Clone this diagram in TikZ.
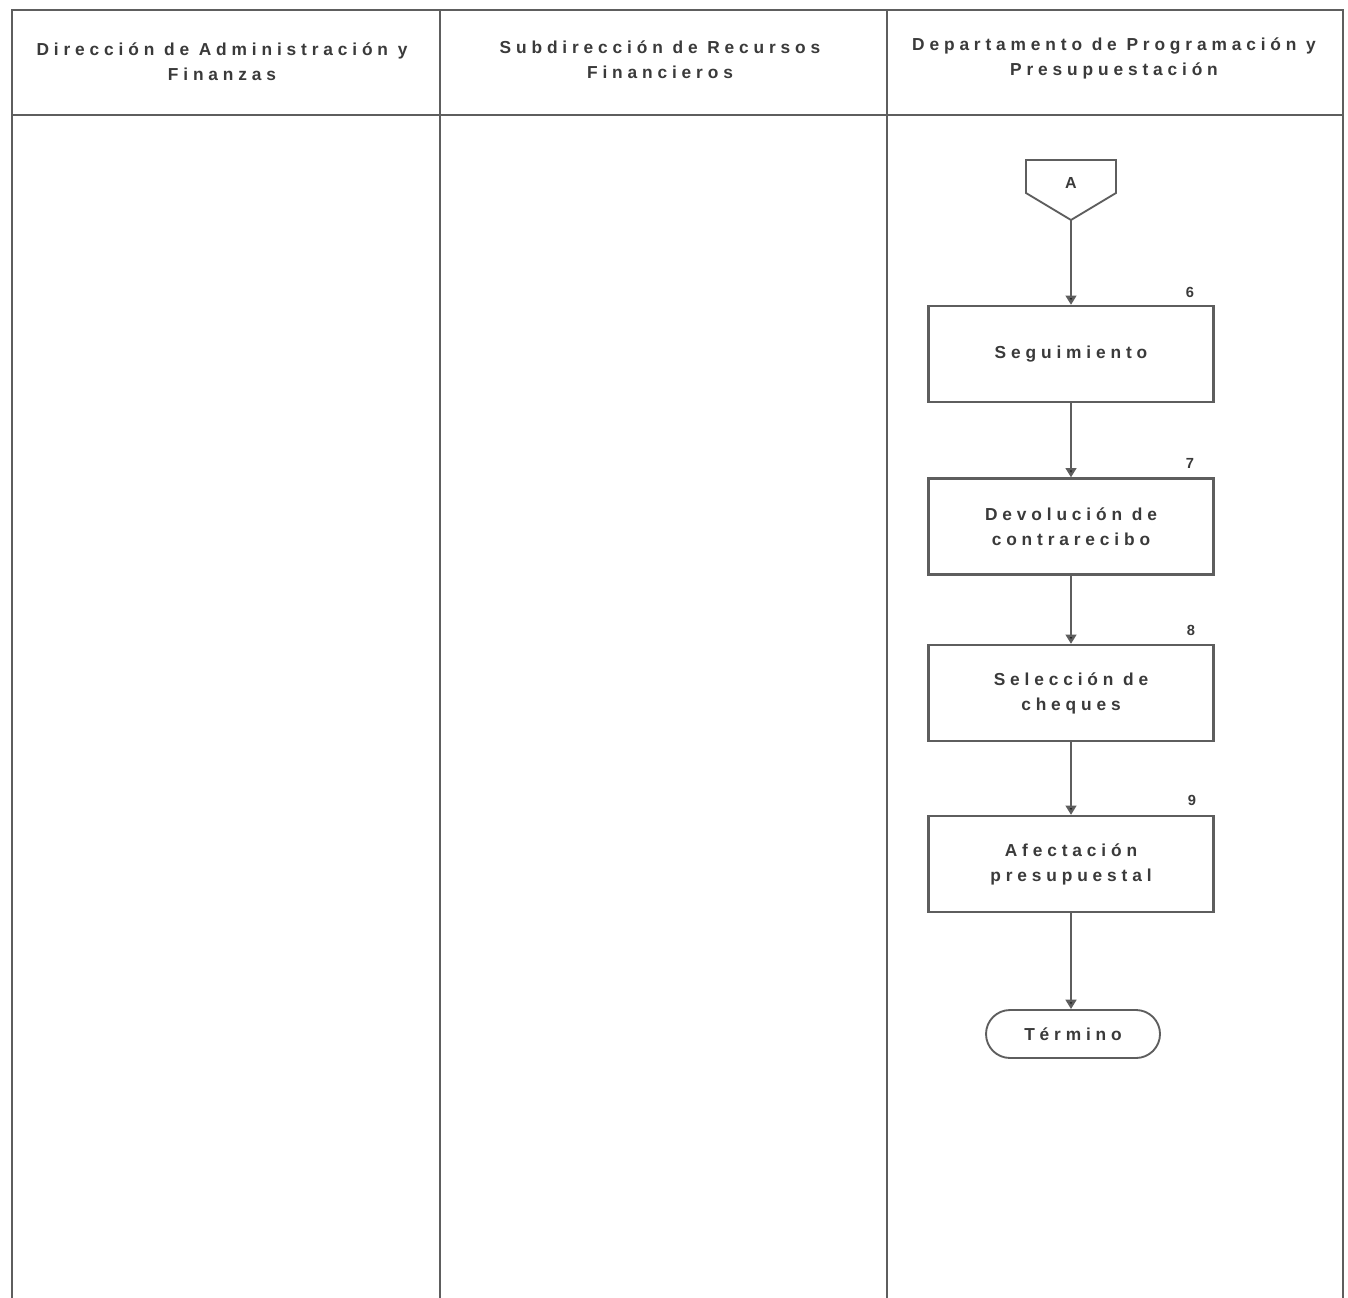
\documentclass[tikz,border=0pt]{standalone}
\usepackage{fontspec}
\setmainfont{Liberation Sans}[LetterSpace=28]
\usetikzlibrary{arrows.meta}
\definecolor{ln}{HTML}{5E5E5E}
\definecolor{tx}{HTML}{3A3A3A}
\tikzset{
  lane/.style={draw=ln, line width=2pt},
  hdr/.style={align=center, text=tx, font=\bfseries\fontsize{13}{18.75}\selectfont, inner sep=0pt},
  stepbox/.style={draw=ln, line width=1.7pt, minimum width=213.75pt, minimum height=72pt, align=center, text=tx, font=\bfseries\fontsize{13}{18.75}\selectfont, inner sep=0pt},
  endbox/.style={draw=ln, line width=1.4pt, minimum width=130.5pt, minimum height=36pt, rounded corners=18pt, text=tx, font=\bfseries\fontsize{13}{14}\selectfont, inner sep=0pt},
  num/.style={text=tx, font=\bfseries\fontsize{11}{12}\selectfont, inner sep=0pt},
  flow/.style={draw=ln, line width=1.7pt, -{Triangle[length=7pt,width=8pt,fill=black!85]}},
}
\begin{document}
\begin{tikzpicture}[x=0.75pt,y=-0.75pt]
\useasboundingbox[fill=white] (0,0) rectangle (1348,1298);
% swimlane frame
\draw[lane] (12,1298) -- (12,10) -- (1343,10) -- (1343,1298);
\draw[lane] (12,115) -- (1343,115);
\draw[lane] (440,10) -- (440,1298);
\draw[lane] (887,10) -- (887,1298);
% headers
\node[hdr] (h1) at (222,62) {Dirección de Administración y\\Finanzas};
\node[hdr] (h2) at (660,60) {Subdirección de Recursos\\Financieros};
\node[hdr] (h3) at (1114,58) {Departamento de Programación y\\Presupuestación};
% off-page connector A
\draw[draw=ln, line width=1.4pt, fill=white] (1026,160) -- (1116,160) -- (1116,193) -- (1071,220) -- (1026,193) -- cycle;
\node[num, font=\bfseries\fontsize{12}{12}\selectfont] (A) at (1071,183) {A};
\coordinate (Abot) at (1071,220);
% steps
\node[stepbox] (s6) at (1071,354) {Seguimiento};
\node[stepbox] (s7) at (1071,526.5) {Devolución de\\contrarecibo};
\node[stepbox] (s8) at (1071,693) {Selección de\\cheques};
\node[stepbox] (s9) at (1071,864) {Afectación\\presupuestal};
\node[endbox] (fin) at (1073,1034) {Término};
% numbers
\node[num] (n6) at (1190,292) {6};
\node[num] (n7) at (1190,463) {7};
\node[num] (n8) at (1191,630) {8};
\node[num] (n9) at (1192,800) {9};
% connectors
\draw[flow] (Abot) -- (s6.north);
\draw[flow] (s6.south) -- (s7.north);
\draw[flow] (s7.south) -- (s8.north);
\draw[flow] (s8.south) -- (s9.north);
\draw[flow] (s9.south) -- (s9.south |- fin.north);
\end{tikzpicture}
\end{document}
